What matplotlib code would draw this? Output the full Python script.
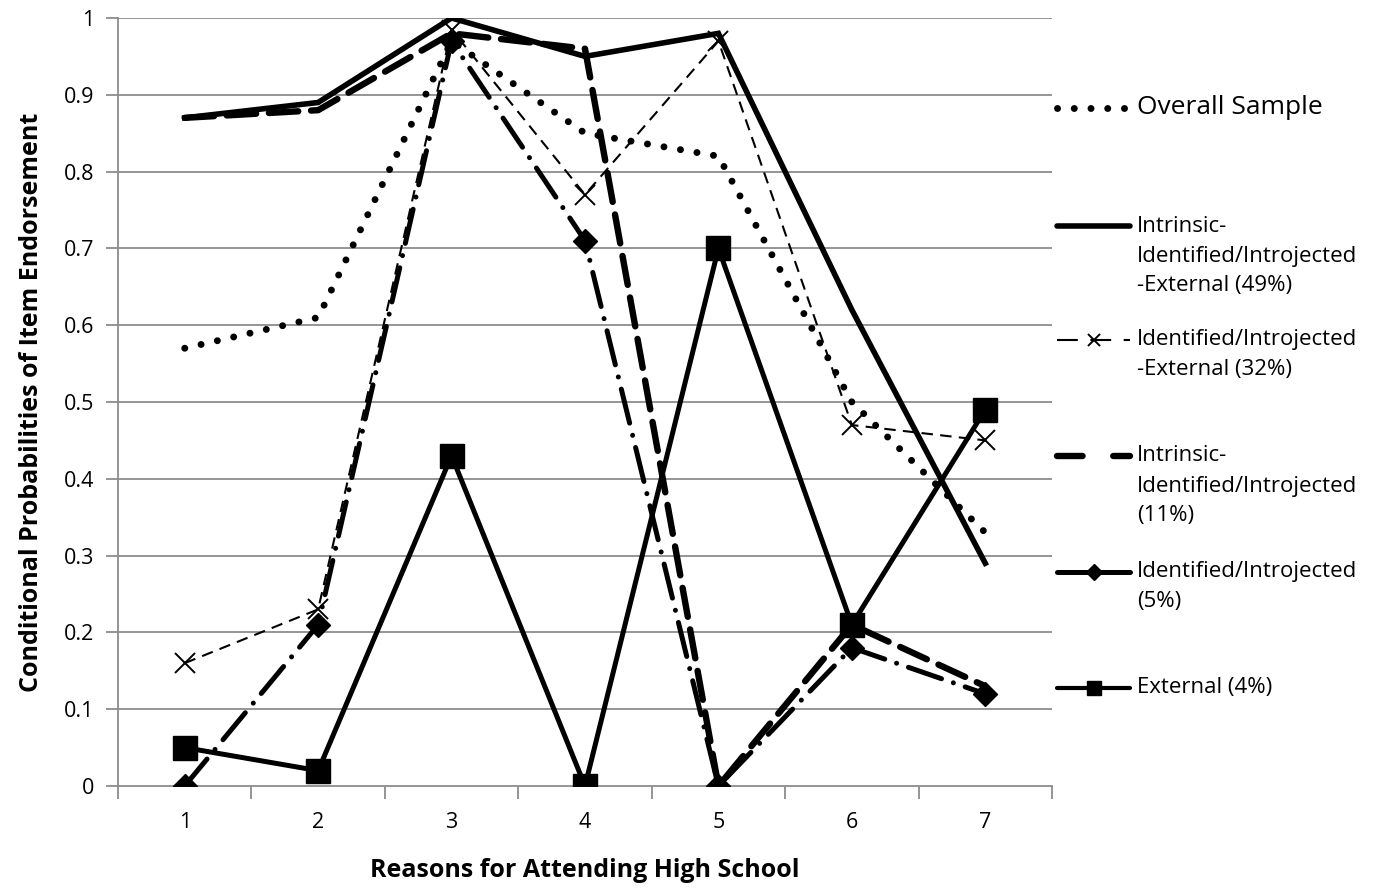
import matplotlib
matplotlib.use("Agg")
import matplotlib.pyplot as plt
from matplotlib.lines import Line2D

plt.rcParams['font.family'] = ['Open Sans', 'DejaVu Sans']

categories = [1, 2, 3, 4, 5, 6, 7]
overall = [0.57, 0.61, 0.97, 0.85, 0.82, 0.50, 0.33]
int_ide_ext_49 = [0.87, 0.89, 1.00, 0.95, 0.98, 0.62, 0.29]
ide_ext_32 = [0.16, 0.23, 0.985, 0.77, 0.97, 0.47, 0.45]
int_ide_11 = [0.87, 0.88, 0.98, 0.96, 0.00, 0.21, 0.13]
ide_5 = [0.00, 0.21, 0.97, 0.71, 0.00, 0.18, 0.12]
external_4 = [0.05, 0.02, 0.43, 0.00, 0.70, 0.21, 0.49]

labels = [["Overall Sample"],
          ["Intrinsic-", "Identified/Introjected", "-External (49%)"],
          ["Identified/Introjected", "-External (32%)"],
          ["Intrinsic-", "Identified/Introjected", "(11%)"],
          ["Identified/Introjected", "(5%)"],
          ["External (4%)"]]
yticks = [0, 0.1, 0.2, 0.3, 0.4, 0.5, 0.6, 0.7, 0.8, 0.9, 1]
ytick_labels = ["0", "0.1", "0.2", "0.3", "0.4", "0.5", "0.6", "0.7", "0.8", "0.9", "1"]

W, H = 1375, 890
fig = plt.figure(figsize=(W / 100, H / 100), dpi=100)
ax = fig.add_axes([118 / W, 1 - 786 / H, (1052 - 118) / W, (786 - 18) / H])

grid_c = "#8c8c8c"
for yv in yticks[1:]:
    ax.axhline(yv, color=grid_c, lw=1.3, zorder=0)

styles = [
    dict(color='black', lw=5.0, linestyle=(0, (0.01, 2.4)), dash_capstyle='round',
         solid_capstyle='round'),
    dict(color='black', lw=4.0, linestyle='-', solid_joinstyle='miter'),
    dict(color='black', lw=1.5, linestyle=(0, (5.5, 3.5)), marker='x', markersize=15,
         markeredgewidth=1.4),
    dict(color='black', lw=4.6, linestyle=(0, (4.6, 2.0)), dash_capstyle='round'),
    dict(color='black', lw=3.6, linestyle=(0, (7, 2.5, 0.01, 2.5)), dash_capstyle='round',
         marker='D', markersize=12),
    dict(color='black', lw=3.6, linestyle='-', marker='s', markersize=17),
]
legend_styles = [
    dict(color='black', lw=5.0, linestyle=(0, (0.01, 2.4)), dash_capstyle='round'),
    dict(color='black', lw=4.0, linestyle='-', solid_capstyle='round'),
    dict(color='black', lw=1.5, linestyle=(0, (10, 6)), marker='x', markersize=9,
         markeredgewidth=1.4),
    dict(color='black', lw=4.6, linestyle=(0, (4.0, 4.8)), dash_capstyle='round'),
    dict(color='black', lw=3.6, linestyle='-', solid_capstyle='round', marker='D', markersize=8),
    dict(color='black', lw=3.0, linestyle='-', solid_capstyle='round', marker='s', markersize=10),
]
series = [overall, int_ide_ext_49, ide_ext_32, int_ide_11, ide_5, external_4]
for s, st in zip(series, styles):
    ax.plot(categories, s, zorder=3, **st)

ax.set_xlim(0.5, 7.5)
ax.set_ylim(0, 1)
ax.set_yticks(yticks)
ax.set_yticklabels(ytick_labels, fontsize=15.5)
ax.set_xticks(categories)
ax.set_xticklabels([str(c) for c in categories], fontsize=15.5)
ax.set_xticks([1.5 + i for i in range(6)] + [0.5, 7.5], minor=True)
ax.tick_params(axis='x', which='major', length=0, pad=19)
ax.tick_params(axis='x', which='minor', length=9, color=grid_c, width=1.3)
ax.tick_params(axis='y', which='major', length=9, color=grid_c, width=1.3, pad=8)
for sp in ['top', 'right']:
    ax.spines[sp].set_visible(False)
ax.spines['left'].set_color(grid_c)
ax.spines['left'].set_linewidth(1.3)
ax.spines['bottom'].set_color(grid_c)
ax.spines['bottom'].set_linewidth(1.3)

ax.set_xlabel("Reasons for Attending High School", fontsize=18, fontweight='bold', labelpad=18)
ax.set_ylabel("Conditional Probabilities of Item Endorsement", fontsize=18,
              fontweight='bold', labelpad=14)

# manual legend
leg_y = [108, 226, 340, 456, 572, 688]
x0, x1, xt = 1057, 1130, 1137
for i, (lines, st) in enumerate(zip(labels, legend_styles)):
    yf = 1 - leg_y[i] / H
    st2 = dict(st)
    if 'marker' in st2:
        st2['markevery'] = [1]
    ln = Line2D([x0 / W, (x0 + x1) / 2 / W, x1 / W], [yf, yf, yf], transform=fig.transFigure,
                **st2)
    fig.add_artist(ln)
    fs = 19 if i == 0 else 16
    for k, txt in enumerate(lines):
        fig.text(xt / W, 1 - (leg_y[i] + 30 * k) / H, txt, fontsize=fs, va='center',
                 ha='left', transform=fig.transFigure)

fig.savefig("out.png", dpi=100)
